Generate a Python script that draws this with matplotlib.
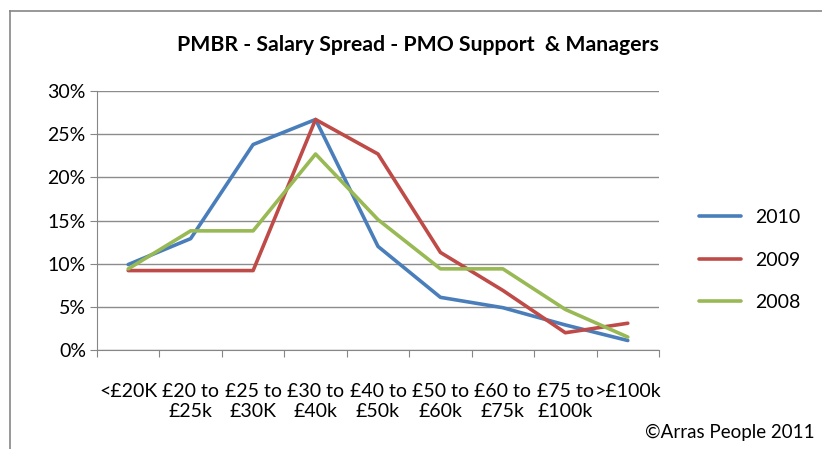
import matplotlib
matplotlib.use("Agg")
import matplotlib.pyplot as plt
from matplotlib.lines import Line2D
from matplotlib.ticker import FuncFormatter

plt.rcParams["font.family"] = ["Lato", "DejaVu Sans"]

categories = ["<£20K", "£20 to\n£25k", "£25 to\n£30K", "£30 to\n£40k", "£40 to\n£50k",
              "£50 to\n£60k", "£60 to\n£75k", "£75 to\n£100k", ">£100k"]
values_2010 = [9.9, 12.9, 23.8, 26.7, 12.0, 6.1, 4.9, 2.9, 1.1]
values_2009 = [9.2, 9.2, 9.2, 26.7, 22.7, 11.3, 6.9, 2.0, 3.1]
values_2008 = [9.4, 13.8, 13.8, 22.7, 15.1, 9.4, 9.4, 4.7, 1.5]

series = [
    ("2010", values_2010, "#4a7ebb"),
    ("2009", values_2009, "#be4b48"),
    ("2008", values_2008, "#98b954"),
]

W, H = 822, 449
fig = plt.figure(figsize=(W / 100, H / 100), dpi=100)
fig.patch.set_facecolor("white")
ax = fig.add_axes([97 / W, 1 - 350 / H, (659 - 97) / W, (350 - 91) / H])

x = list(range(len(categories)))
for label, vals, color in series:
    ax.plot(x, vals, color=color, linewidth=2.6, label=label, solid_capstyle="round")

ax.set_xlim(-0.5, len(categories) - 0.5)
ax.set_ylim(0, 30)
ax.set_yticks(range(0, 31, 5))
ax.yaxis.set_major_formatter(FuncFormatter(lambda v, p: f"{int(v)}%"))
ax.set_xticks([i - 0.5 for i in range(len(categories) + 1)])
ax.set_xticklabels([])
ax.set_xticks(x, minor=True)
ax.set_xticklabels(categories, minor=True, fontsize=14, linespacing=1.2)
ax.tick_params(axis="x", which="minor", length=0, pad=24)
ax.tick_params(axis="x", which="major", length=5, color="#868686", direction="out")
ax.tick_params(axis="y", length=5, color="#868686", labelsize=14, pad=3)

ax.grid(axis="y", color="#8c8c8c", linewidth=1.0)
ax.set_axisbelow(True)
for side in ["top", "right"]:
    ax.spines[side].set_visible(False)
ax.spines["left"].set_color("#868686")
ax.spines["bottom"].set_color("#868686")

fig.text(418 / W, 1 - 45 / H, "PMBR - Salary Spread - PMO Support  & Managers",
         ha="center", va="center", fontsize=15.3, fontweight="bold")

handles = [Line2D([0], [0], color=c, linewidth=2.6, solid_capstyle="round") for _, _, c in series]
fig.legend(handles, [s[0] for s in series], loc="center left",
           bbox_to_anchor=(681 / W, 1 - 260 / H), frameon=False, fontsize=14,
           handlelength=2.2, labelspacing=1.3, handletextpad=0.7)

fig.text(815 / W, 1 - 432 / H, "©Arras People 2011", ha="right", va="center", fontsize=13.5)

fig.add_artist(Line2D([10 / W, 10 / W], [0, 1 - 11 / H], color="#868686", linewidth=1.2))
fig.add_artist(Line2D([10 / W, 1], [1 - 11 / H, 1 - 11 / H], color="#868686", linewidth=1.2))

fig.savefig("out.png", dpi=100)
